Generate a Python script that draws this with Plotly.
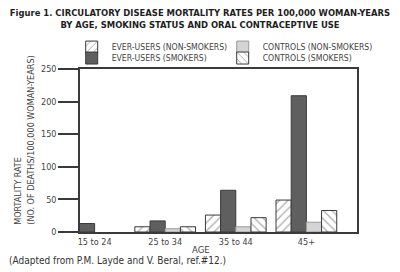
import plotly.graph_objects as go

ages = ["15 to 24", "25 to 34", "35 to 44", "45+"]
ever_nonsmokers = [None, 8, 26, 49]
ever_smokers = [13, 17, 64, 209]
ctrl_nonsmokers = [None, 5, 8, 15]
ctrl_smokers = [None, 8, 22, 33]
y_ticks = [0, 50, 100, 150, 200, 250]

FONT = "'DejaVu Sans Condensed', 'Liberation Sans Narrow', 'Roboto Condensed', 'Liberation Sans', sans-serif"
LINE = "#3a3a3a"
TXT = "#444444"

fig = go.Figure()
fig.add_trace(go.Bar(x=ages, y=ever_nonsmokers, name="EVER-USERS (NON-SMOKERS)", legend="legend",
                     marker=dict(color="white", line=dict(color=LINE, width=1),
                                 pattern=dict(shape="/", fgcolor="#555555", bgcolor="white", size=6, solidity=0.2))))
fig.add_trace(go.Bar(x=ages, y=ever_smokers, name="EVER-USERS (SMOKERS)", legend="legend2",
                     marker=dict(color="#5f5f5f", line=dict(color=LINE, width=1))))
fig.add_trace(go.Bar(x=ages, y=ctrl_nonsmokers, name="CONTROLS (NON-SMOKERS)", legend="legend",
                     marker=dict(color="#d4d4d4", line=dict(color="#9a9a9a", width=1))))
fig.add_trace(go.Bar(x=ages, y=ctrl_smokers, name="CONTROLS (SMOKERS)", legend="legend2",
                     marker=dict(color="white", line=dict(color=LINE, width=1),
                                 pattern=dict(shape="\\", fgcolor="#555555", bgcolor="white", size=6, solidity=0.2))))

leg_common = dict(orientation="h", xanchor="left", yanchor="middle", x=-0.03,
                  entrywidth=106, entrywidthmode="pixels", itemwidth=30,
                  font=dict(family=FONT, size=8.6, color=TXT), bgcolor="rgba(0,0,0,0)")

fig.update_layout(
    width=400, height=272,
    margin=dict(l=80, r=43, t=69, b=40),
    paper_bgcolor="white", plot_bgcolor="white",
    barmode="group", bargap=0.14, bargroupgap=0,
    font=dict(family=FONT, size=9, color=TXT),
    title=dict(text="Figure 1. CIRCULATORY DISEASE MORTALITY RATES PER 100,000 WOMAN-YEARS<br>BY AGE, SMOKING STATUS AND ORAL CONTRACEPTIVE USE",
               x=0.5, xanchor="center", y=0.942, yanchor="top",
               font=dict(family=FONT, size=9.4, color="#1e1e1e", weight="bold")),
    legend=dict(leg_common, y=1 + (69 - 47) / 163.5),
    legend2=dict(leg_common, y=1 + (69 - 58) / 163.5),
    showlegend=True,
)
fig.update_xaxes(type="category", range=[-0.207, 3.717], showline=True, linecolor=LINE, linewidth=1.5,
                 mirror=True, ticks="", tickfont=dict(size=9, color=TXT), showgrid=False)
fig.update_yaxes(range=[0, 250], tickvals=y_ticks, showline=True, linecolor=LINE, linewidth=1.5,
                 mirror=True, ticks="outside", ticklen=20, tickwidth=1.5, tickcolor=LINE,
                 tickfont=dict(size=9, color=TXT), showgrid=False, zeroline=False)

fig.add_annotation(text="MORTALITY RATE", xref="paper", yref="paper", x=-0.225, y=0.03,
                   xanchor="center", yanchor="bottom", textangle=-90, showarrow=False,
                   font=dict(size=9, color=TXT))
fig.add_annotation(text="(NO. OF DEATHS/100,000 WOMAN-YEARS)", xref="paper", yref="paper", x=-0.18, y=0.03,
                   xanchor="center", yanchor="bottom", textangle=-90, showarrow=False,
                   font=dict(size=9, color=TXT))
fig.add_annotation(text="AGE", xref="paper", yref="paper", x=0.437, y=-0.06,
                   xanchor="center", yanchor="top", showarrow=False, font=dict(size=9.5, color=TXT))
fig.add_annotation(text="(Adapted from P.M. Layde and V. Beral, ref.#12.)", xref="paper", yref="paper",
                   x=-0.265, y=-0.13, xanchor="left", yanchor="top", showarrow=False,
                   font=dict(size=10, color="#333333"))

fig.write_html("out.html")
